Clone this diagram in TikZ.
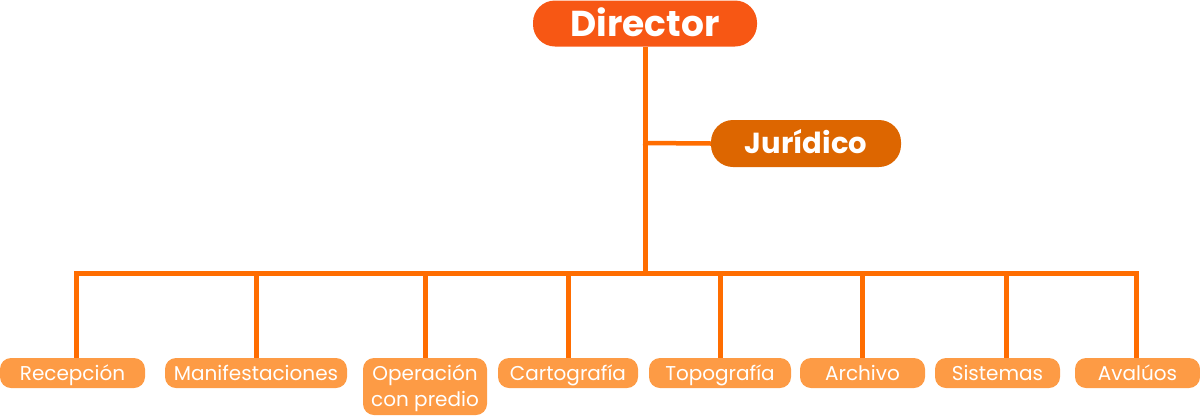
\documentclass[tikz,border=0pt]{standalone}
\usepackage{fontspec}
\setmainfont{Poppins}
\definecolor{dirc}{RGB}{247,87,20}
\definecolor{jurc}{RGB}{221,102,0}
\definecolor{boxc}{RGB}{253,155,69}
\definecolor{linec}{RGB}{255,109,0}
\begin{document}
\begin{tikzpicture}[x=1pt,y=-1pt,
  conn/.style={draw=linec,line width=5pt},
  dirbox/.style={fill=dirc,text=white,rounded corners=22pt,inner sep=0pt,minimum width=224pt,minimum height=46pt,text height=25pt,text depth=0pt,font=\fontsize{36}{40}\selectfont\bfseries},
  jurbox/.style={fill=jurc,text=white,rounded corners=22pt,inner sep=0pt,minimum width=190pt,minimum height=47pt,text height=20pt,text depth=0pt,font=\fontsize{29}{32}\selectfont\bfseries},
  unit/.style={fill=boxc,text=white,rounded corners=11pt,inner sep=0pt,minimum height=30pt,text height=14pt,text depth=0pt,align=center,font=\fontsize{20}{26.5}\selectfont}]
\useasboundingbox (0,0) rectangle (1200,416);
% nodes
\node[dirbox] (dir) at (645,23.5) {Director};
\node[jurbox] (jur) at (806,143.5) {Jurídico};
\node[unit,minimum width=145pt] (rec) at (72.5,373) {Recepción};
\node[unit,minimum width=182pt] (man) at (256,373) {Manifestaciones};
\node[unit,minimum width=124pt,minimum height=57pt,text height=40.5pt,text depth=0.5pt] (ope) at (425,386.5) {Operación\\con predio};
\node[unit,minimum width=140pt] (car) at (568,373) {Cartografía};
\node[unit,minimum width=142pt] (top) at (720,373) {Topografía};
\node[unit,minimum width=125pt] (arc) at (862.5,373) {Archivo};
\node[unit,minimum width=125pt] (sis) at (997.5,373) {Sistemas};
\node[unit,minimum width=125pt] (ava) at (1137.5,373) {Avalúos};
% bus coordinates
\coordinate (hub) at (645,273);
\coordinate (b1) at (76,273);
\coordinate (b2) at (256,273);
\coordinate (b3) at (425,273);
\coordinate (b4) at (568,273);
\coordinate (b5) at (720,273);
\coordinate (b6) at (862,273);
\coordinate (b7) at (1006,273);
\coordinate (b8) at (1136,273);
\coordinate (jt) at (643,143);
% connectors
\draw[conn] (dir.south) -- (hub);
\draw[conn,line width=4.5pt] (jt) -- (jur.west);
\draw[conn,line join=miter] (b1 |- rec.north) -- (b1) -- (b8) -- (b8 |- ava.north);
\foreach \b/\n in {b2/man,b3/ope,b4/car,b5/top,b6/arc,b7/sis}
  \draw[conn] (\b) -- (\b |- \n.north);
\end{tikzpicture}
\end{document}
